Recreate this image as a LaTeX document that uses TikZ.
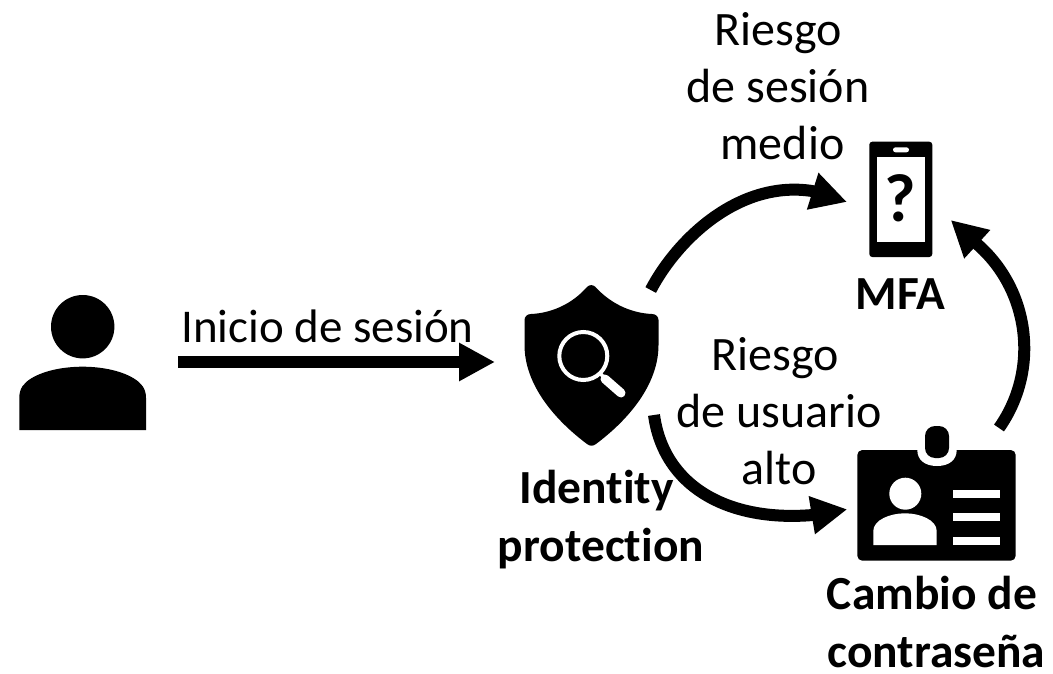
\documentclass[tikz,border=0pt]{standalone}
\usepackage{fontspec}
\setmainfont[Ligatures={NoCommon,NoContextual}]{Carlito}
\usetikzlibrary{arrows.meta}
\tikzset{
  x=1pt,y=-1pt,
  label text/.style={font=\fontsize{48}{57}\selectfont,align=center,inner sep=0pt},
  icon label/.style={font=\fontsize{47.5}{58}\selectfont\bfseries,align=center,inner sep=0pt},
  flow/.style={line width=12pt,-{Triangle[length=36pt,width=36pt]}},
  glyph/.style={fill=black,draw=none},
  cutout/.style={fill=white,draw=none}
}
\begin{document}
\begin{tikzpicture}
\useasboundingbox (0,0) rectangle (1053,674);
% user
\fill[glyph] (82.7,326.7) circle (31.7);
\fill[glyph] (19.3,430) -- (19.3,398) .. controls (19.3,388) and (24,383) .. (31,378.5)
  .. controls (45,370) and (65,366.7) .. (82.7,366.7)
  .. controls (100,366.7) and (120,370) .. (134,378.5)
  .. controls (141,383) and (146,388) .. (146,398) -- (146,430) -- cycle;
% shield
\fill[glyph] (587,287) .. controls (589.5,284.5) and (593,284.5) .. (595.5,287)
  .. controls (610,303) and (630,313) .. (652,314)
  .. controls (656,314) and (658.5,317) .. (658.5,320)
  -- (658.5,345) .. controls (658.5,385) and (628,420) .. (596,444)
  .. controls (593,446.3) and (590,446.3) .. (587,444)
  .. controls (555,420) and (524.5,385) .. (524.5,345)
  -- (524.5,320) .. controls (524.5,317) and (527,314) .. (531,314)
  .. controls (553,313) and (573,303) .. (587,287) -- cycle;
\draw[white,line width=4pt] (583.3,356) circle (24);
\draw[white,line width=3.5pt] (600,373) -- (606,380);
\draw[white,line width=9pt,line cap=round] (605,379) -- (621,393);
% phone
\fill[glyph,rounded corners=3pt] (869.3,141.7) rectangle (932.3,257);
\fill[cutout] (877,157.3) rectangle (924.7,241.7);
\fill[cutout,rounded corners=2.5pt] (893,147.3) rectangle (909,152.3);
\node[font=\fontsize{68}{68}\selectfont\bfseries,inner sep=0pt] (qmark) at (900.5,198) {?};
% badge
\fill[glyph,rounded corners=5pt] (857.3,450) rectangle (1015.7,560.7);
\fill[cutout] (917.3,445) -- (917.3,450) .. controls (917.3,460) and (925,466) .. (937,466)
  .. controls (949,466) and (956.7,460) .. (956.7,450) -- (956.7,445) -- cycle;
\fill[glyph,rounded corners=10pt] (925,426) rectangle (949,458);
\fill[cutout] (905.3,493.7) circle (16);
\fill[cutout] (873.3,545) -- (873.3,531) .. controls (873.3,520) and (890,513.3) .. (905,513.3)
  .. controls (920,513.3) and (936.7,520) .. (936.7,531) -- (936.7,545) -- cycle;
\fill[cutout] (952.7,490) rectangle (1000,497.7);
\fill[cutout] (952.7,513.3) rectangle (1000,521.3);
\fill[cutout] (952.7,537) rectangle (1000,545);
% anchors
\coordinate (loginstart) at (178.3,362);
\coordinate (shieldwest) at (495,362);
\coordinate (shieldtop) at (650.7,290);
\coordinate (topneck) at (812,191);
\coordinate (phonewest) at (847,202);
\coordinate (shieldbottom) at (654,415);
\coordinate (lowneck) at (812.7,515);
\coordinate (badgewest) at (847.3,509.3);
\coordinate (badgetop) at (999,428);
\coordinate (rightneck) at (977,244);
\coordinate (phoneeast) at (950.7,220);
% connectors
\draw[flow] (loginstart) -- (shieldwest);
\draw[flow] (shieldtop) .. controls (678,238) and (740,180) .. (topneck) -- (phonewest);
\draw[flow] (shieldbottom) .. controls (664,488) and (730,522) .. (lowneck) -- (badgewest);
\draw[flow] (badgetop) .. controls (1040,370) and (1030,290) .. (rightneck) -- (phoneeast);
% labels
\node[label text,font=\fontsize{47}{57}\selectfont] (login) at (327.5,326) {Inicio de sesión};
\node[label text] (session) at (778,86) {Riesgo\\de sesión\\\hspace*{9pt}medio};
\node[label text] (userrisk) at (779,411) {Riesgo\hspace*{8pt}\\de usuario\\alto};
\node[icon label] (mfa) at (900.5,294) {MFA};
\node[icon label] (idp) at (601,520) {Identity\hspace*{9pt}\\protection};
\node[icon label,anchor=south,text depth=0pt] (pwd) at (936.5,668) {Cambio de\hspace*{9pt}\\contraseña};
\end{tikzpicture}
\end{document}
